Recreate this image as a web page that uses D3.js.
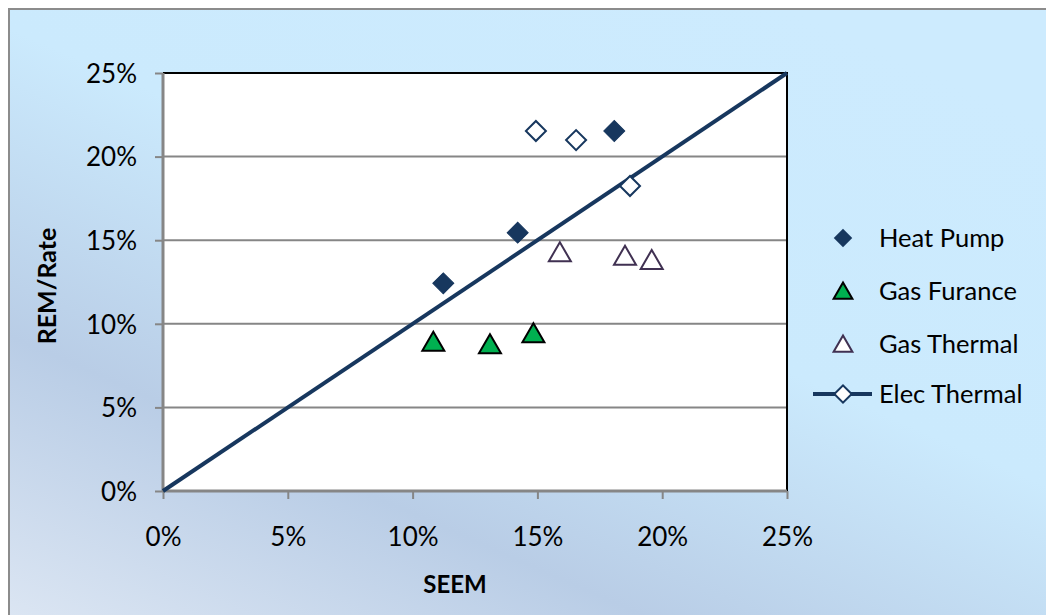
<!DOCTYPE html>
<html><head><meta charset="utf-8">
<script src="https://cdn.jsdelivr.net/npm/d3@7"></script>
<style>html,body{margin:0;padding:0;background:#fff;}svg{display:block;}</style>
</head><body>
<svg id="chart" width="1046" height="615"></svg>
<script>
// ---- data ----
const xTicks = [0, 0.05, 0.10, 0.15, 0.20, 0.25];
const yTicks = [0, 0.05, 0.10, 0.15, 0.20, 0.25];
const heatPumpX = [0.1123, 0.1421, 0.1808];
const heatPumpY = [0.1242, 0.1545, 0.2153];
const gasFurnaceX = [0.1083, 0.1310, 0.1484];
const gasFurnaceY = [0.0893, 0.0877, 0.0943];
const gasThermalX = [0.1590, 0.1851, 0.1958];
const gasThermalY = [0.1428, 0.1407, 0.1382];
const elecThermalX = [0.1494, 0.1655, 0.1871];
const elecThermalY = [0.2153, 0.2099, 0.1824];
const refLineX = [0, 0.25];
const refLineY = [0, 0.25];
const seriesNames = ["Heat Pump", "Gas Furance", "Gas Thermal", "Elec Thermal"];

const svg = d3.select("#chart");
const W = 1046, H = 615;
const font = "Lato, 'Open Sans', sans-serif";

// background gradient
const defs = svg.append("defs");
const grad = defs.append("linearGradient").attr("id", "bg")
  .attr("x1", 0).attr("y1", 1).attr("x2", 0.75).attr("y2", 0);
[[0, "#dce6f3"], [0.3, "#b9cde6"], [0.62, "#cbeafd"], [1, "#cdebfe"]].forEach(s =>
  grad.append("stop").attr("offset", s[0]).attr("stop-color", s[1]));
svg.append("rect").attr("x", 9).attr("y", 9).attr("width", W).attr("height", H)
  .attr("fill", "url(#bg)").attr("stroke", "#8c8c8c").attr("stroke-width", 2);

const plot = {l: 163, r: 787, t: 73, b: 491};
const x = d3.scaleLinear().domain([0, 0.25]).range([plot.l, plot.r]);
const y = d3.scaleLinear().domain([0, 0.25]).range([plot.b, plot.t]);
const pct = d => Math.round(d * 100) + "%";

// plot area
svg.append("rect").attr("x", plot.l).attr("y", plot.t)
  .attr("width", plot.r - plot.l).attr("height", plot.b - plot.t).attr("fill", "#fff");

// gridlines
svg.append("g").selectAll("line").data(yTicks.filter(d => d > 0 && d < 0.25)).join("line")
  .attr("x1", plot.l).attr("x2", plot.r).attr("y1", d => y(d)).attr("y2", d => y(d))
  .attr("stroke", "#868686").attr("stroke-width", 2);

// top/right border
svg.append("path")
  .attr("d", `M${plot.l},${plot.t}H${plot.r}V${plot.b}`)
  .attr("fill", "none").attr("stroke", "#000").attr("stroke-width", 2);

// axes
const xAxis = svg.append("g").attr("transform", `translate(0,${plot.b})`)
  .call(d3.axisBottom(x).tickValues(xTicks).tickFormat(pct).tickSize(8).tickPadding(29));
const yAxis = svg.append("g").attr("transform", `translate(${plot.l},0)`)
  .call(d3.axisLeft(y).tickValues(yTicks).tickFormat(pct).tickSize(8).tickPadding(18));
[xAxis, yAxis].forEach(g => {
  g.select(".domain").attr("stroke", "#868686").attr("stroke-width", 3);
  g.selectAll(".tick line").attr("stroke", "#868686").attr("stroke-width", 2);
  g.selectAll(".tick text").attr("fill", "#000").style("font-family", font).style("font-size", "26px");
});
xAxis.select(".domain").attr("d", `M${plot.l},0H${plot.r}`);
yAxis.select(".domain").attr("d", `M0,${plot.b}V${plot.t}`);
yAxis.selectAll(".tick text").attr("dy", "0.36em");

// axis titles
svg.append("text").attr("x", 455).attr("y", 593).attr("text-anchor", "middle")
  .style("font-family", font).style("font-size", "24px").style("font-weight", "bold").text("SEEM");
svg.append("text").attr("transform", "translate(56,286) rotate(-90)").attr("text-anchor", "middle")
  .style("font-family", font).style("font-size", "25px").style("font-weight", "bold").text("REM/Rate");

// reference line
const line = d3.line().x(d => x(d[0])).y(d => y(d[1]));
svg.append("path").datum(d3.zip(refLineX, refLineY)).attr("d", line)
  .attr("fill", "none").attr("stroke", "#17375e").attr("stroke-width", 4);

// markers
const tri = "M0,-10L11,9L-11,9Z";
function drawPoints(xs, ys, path, fill, stroke, sw, rotate) {
  svg.append("g").selectAll("path").data(d3.zip(xs, ys)).join("path")
    .attr("transform", d => `translate(${x(d[0])},${y(d[1])})` + (rotate ? " rotate(45)" : ""))
    .attr("d", path).attr("fill", fill).attr("stroke", stroke).attr("stroke-width", sw);
}
drawPoints(heatPumpX, heatPumpY, d3.symbol().type(d3.symbolSquare).size(220)(), "#17375e", "#17375e", 1, true);
drawPoints(gasFurnaceX, gasFurnaceY, tri, "#00b050", "#000", 2, false);
drawPoints(gasThermalX, gasThermalY, tri, "#fff", "#403152", 2, false);
drawPoints(elecThermalX, elecThermalY, d3.symbol().type(d3.symbolSquare).size(200)(), "#fff", "#17375e", 2, true);

// legend
const legY = [238, 291, 344, 394];
const lg = svg.append("g");
lg.append("path").attr("transform", `translate(843,${legY[0]}) rotate(45)`)
  .attr("d", d3.symbol().type(d3.symbolSquare).size(170)()).attr("fill", "#17375e");
lg.append("path").attr("transform", `translate(843,${legY[1]}) scale(0.85)`).attr("d", tri)
  .attr("fill", "#00b050").attr("stroke", "#000").attr("stroke-width", 2.4);
lg.append("path").attr("transform", `translate(843,${legY[2]}) scale(0.85)`).attr("d", tri)
  .attr("fill", "#fff").attr("stroke", "#403152").attr("stroke-width", 2.4);
lg.append("line").attr("x1", 813).attr("x2", 872).attr("y1", legY[3]).attr("y2", legY[3])
  .attr("stroke", "#17375e").attr("stroke-width", 4);
lg.append("path").attr("transform", `translate(843,${legY[3]}) rotate(45)`)
  .attr("d", d3.symbol().type(d3.symbolSquare).size(150)()).attr("fill", "#fff")
  .attr("stroke", "#17375e").attr("stroke-width", 2);
lg.selectAll("text").data(seriesNames).join("text")
  .attr("x", 879).attr("y", (d, i) => legY[i]).attr("dy", "0.36em")
  .style("font-family", font).style("font-size", "25.5px").attr("fill", "#000").text(d => d);
</script>
</body></html>
